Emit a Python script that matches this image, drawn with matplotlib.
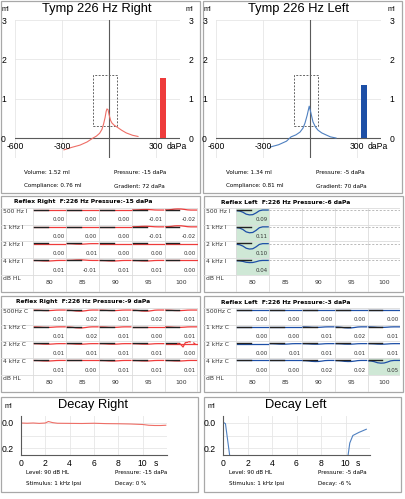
import numpy as np
import matplotlib
matplotlib.use('Agg')
import matplotlib.pyplot as plt
from matplotlib.patches import Rectangle

W, H = 406, 499
BIG = 'Liberation Sans'
SMALL = 'DejaVu Sans'

# ---------------- tympanograms (daPa, ml)
tymp_p_right = [-287, -240, -185, -140, -102, -80, -60, -45, -35, -25, -18, -13,
                -6, 0, 10, 19, 35, 51, 80, 110, 150, 185]
tymp_c_right = [-0.30, -0.24, -0.18, -0.10, 0.0, 0.05, 0.12, 0.22, 0.35, 0.52, 0.68, 0.74,
                0.72, 0.60, 0.45, 0.38, 0.32, 0.28, 0.20, 0.13, 0.07, 0.04]
tymp_p_left = [-255, -200, -150, -121, -90, -64, -45, -32, -18, -5,
               5, 19, 35, 51, 75, 102, 130, 166]
tymp_c_left = [-0.23, -0.17, -0.08, 0.03, 0.08, 0.15, 0.25, 0.38, 0.58, 0.81,
               0.65, 0.41, 0.28, 0.20, 0.13, 0.08, 0.03, 0.0]
volume_right = 1.52
volume_left = 1.34
volume_pos = 345
tymp_info_right = ["Volume: 1.52 ml", "Pressure: -15 daPa", "Compliance: 0.76 ml", "Gradient: 72 daPa"]
tymp_info_left = ["Volume: 1.34 ml", "Pressure: -5 daPa", "Compliance: 0.81 ml", "Gradient: 70 daPa"]
tymp_xticks = [-600, -300, 300]
tymp_yticks = [0, 1, 2, 3]
normal_p = [-100, 50]
normal_c = [0.3, 1.6]

# ---------------- acoustic reflex
reflex_levels = [80, 85, 90, 95, 100]
ipsi_rows = ["500 Hz I", "1 kHz I", "2 kHz I", "4 kHz I"]
contra_rows = ["500Hz C", "1 kHz C", "2 kHz C", "4 kHz C"]
ipsi_right = [[0.00, 0.00, 0.00, -0.01, -0.02],
              [0.00, 0.00, 0.00, -0.01, -0.02],
              [0.00, 0.01, 0.00, 0.00, 0.00],
              [0.01, -0.01, 0.01, 0.01, 0.00]]
ipsi_left = [[0.09, None, None, None, None],
             [0.11, None, None, None, None],
             [0.10, None, None, None, None],
             [0.04, None, None, None, None]]
contra_right = [[0.01, 0.02, 0.01, 0.02, 0.01],
                [0.01, 0.02, 0.01, 0.00, 0.01],
                [0.01, 0.01, 0.01, 0.01, 0.00],
                [0.01, 0.00, 0.01, 0.01, 0.01]]
contra_left = [[0.00, 0.00, 0.00, 0.00, 0.00],
               [0.00, 0.00, 0.01, 0.02, 0.01],
               [0.00, 0.01, 0.01, 0.01, 0.01],
               [0.00, 0.00, 0.02, 0.02, 0.05]]
ipsi_left_green = [(0, 0), (1, 0), (2, 0), (3, 0)]
contra_left_green = [(3, 4)]
# reflex response shape (time fraction, relative depth)
shape_t = [0.03, 0.10, 0.20, 0.30, 0.40, 0.50, 0.60, 0.70, 0.80, 0.97]
shape_d = [0.15, 0.20, 0.45, 0.85, 1.00, 0.95, 0.60, 0.15, 0.00, 0.00]
# artefact seen in right contra 2 kHz / 100 dB
artefact_t = [0.40, 0.48, 0.56, 0.63, 0.70]
artefact_d = [0.0, 0.03, 0.20, -0.06, -0.08]
artefact_dash_t = [0.72, 0.85, 0.97]
artefact_dash_d = [-0.12, -0.08, 0.06]

# ---------------- reflex decay (s, ml)
decay_t_right = [0, 0.5, 1.0, 1.5, 2.0, 2.25, 2.6, 3.0, 4.0, 5.0, 6.0, 7.0, 8.0,
                 9.0, 9.5, 10.0, 10.5, 11.0, 11.5, 11.9]
decay_v_right = [0.0, 0.002, 0.0, 0.003, 0.0, -0.012, -0.003, 0.002, 0.003, 0.004, 0.002,
                 0.005, 0.006, 0.008, 0.01, 0.012, 0.018, 0.02, 0.02, 0.018]
decay_t_left = [0, 0.1, 0.2, 0.54, 0.6, np.nan, 10.15, 10.35, 10.6, 11.1, 11.7]
decay_v_left = [-0.01, 0.0, 0.005, 0.256, 0.3, np.nan, 0.3, 0.16, 0.10, 0.075, 0.05]
decay_xticks = [0, 2, 4, 6, 8, 10]
decay_yticks = [0.0, 0.2]
decay_info_right = ["Level: 90 dB HL", "Pressure: -15 daPa", "Stimulus: 1 kHz Ipsi", "Decay: 0 %"]
decay_info_left = ["Level: 90 dB HL", "Pressure: -5 daPa", "Stimulus: 1 kHz Ipsi", "Decay: -6 %"]

RED_LINE = '#ee6e66'
BLUE_LINE = '#4f80c0'
RED = '#ee3b3b'
BLUE = '#1d4fa6'
GREEN = '#cfe8d6'
GRID = '#e6e6e6'
AXC = '#5a5a5a'
BORDER = '#a8a8a8'

fig = plt.figure(figsize=(W / 100, H / 100), dpi=100)
bg = fig.add_axes([0, 0, 1, 1])
bg.set_xlim(0, W)
bg.set_ylim(H, 0)
bg.axis('off')


def px_axes(x0, y0, x1, y1):
    ax = fig.add_axes([x0 / W, 1 - y1 / H, (x1 - x0) / W, (y1 - y0) / H])
    ax.set_facecolor('none')
    return ax


def border(x0, y0, x1, y1):
    bg.add_patch(Rectangle((x0, y0), x1 - x0, y1 - y0, fill=False,
                           edgecolor=BORDER, lw=0.9))


def tymp_panel(ox, zero_x, title, p, c, vol, bar_color, line_color, info):
    border(ox + 1, 1, ox + 200, 193)
    bg.text(ox + 97, 8.5, title, fontsize=9.3, family=BIG, ha='center', va='center')
    bg.text(ox + 5, 9, 'ml', fontsize=5.2, family=BIG, ha='center', va='center')
    bg.text(ox + 189, 9, 'ml', fontsize=5.2, family=BIG, ha='center', va='center')
    k = 0.1567
    ax = px_axes(zero_x - 600 * k, 20, zero_x + 450 * k, 157.7)
    ax.set_xlim(-600, 450)
    ax.set_ylim(-0.5, 3.0)
    for s in ax.spines.values():
        s.set_visible(False)
    ax.set_xticks([])
    ax.set_yticks(tymp_yticks)
    ax.tick_params(axis='y', left=False, right=False, labelleft=True, labelright=True,
                   labelsize=6.2, pad=3)
    for lab in ax.get_yticklabels():
        lab.set_family(BIG)
    for g in tymp_yticks[1:]:
        ax.axhline(g, color=GRID, lw=0.6, zorder=0)
    for g in [-600, -300, 300]:
        ax.axvline(g, color=GRID, lw=0.6, zorder=0)
    ax.axhline(0, color=AXC, lw=0.8, zorder=1)
    ax.axvline(0, color=AXC, lw=0.8, ymin=0.005, zorder=1)
    ax.plot([normal_p[0], normal_p[1], normal_p[1], normal_p[0], normal_p[0]],
            [normal_c[0], normal_c[0], normal_c[1], normal_c[1], normal_c[0]],
            color='#666666', lw=0.7, ls=(0, (2, 1.5)), zorder=2)
    ax.plot(p, c, color=line_color, lw=0.8, zorder=3)
    ax.bar([volume_pos], [vol], width=38, color=bar_color, zorder=3)
    for t in tymp_xticks:
        ax.text(t, -0.22, str(t), fontsize=6.2, family=BIG, ha='center', va='center')
    ax.text(370, -0.22, 'daPa', fontsize=6.2, family=BIG, ha='left', va='center')
    xs = [ox + 24, ox + 114]
    bg.text(xs[0], 173, info[0], fontsize=4.1, family=SMALL, va='center')
    bg.text(xs[1], 173, info[1], fontsize=4.1, family=SMALL, va='center')
    bg.text(xs[0], 186, info[2], fontsize=4.1, family=SMALL, va='center')
    bg.text(xs[1], 186, info[3], fontsize=4.1, family=SMALL, va='center')


def reflex_panel(ox, oy, title, rows, vals, green, color, artefact=None):
    border(ox + 1, oy + 1, ox + 200, oy + 97)
    bg.text(ox + 83, oy + 7, title, fontsize=4.3, family=SMALL, weight='bold',
            ha='center', va='center')
    ax = px_axes(ox + 0.5, oy + 12.7, ox + 197.5, oy + 96.7)
    ax.set_xlim(0, 6)
    ax.set_ylim(5, 0)
    ax.axis('off')
    for (r, c) in green:
        ax.add_patch(Rectangle((c + 1, r), 1, 1, color=GREEN, lw=0, zorder=0))
    for cc in range(1, 7):
        ax.plot([cc, cc], [0, 5], color='#dcdcdc', lw=0.6, zorder=1)
    for rr in range(0, 5):
        ax.plot([0, 6], [rr, rr], color='#dcdcdc', lw=0.6, zorder=1)
    st = np.array(shape_t)
    sd = np.array(shape_d)
    for r, name in enumerate(rows):
        base = r + 0.14
        ax.text(0.08, r + 0.2, name, fontsize=4.3, family=SMALL, color='#333333',
                ha='left', va='center')
        for c, v in enumerate(vals[r]):
            x0 = c + 1
            if v is None:
                ax.plot([x0, x0 + 1], [base, base], color='#b0b0b0', lw=0.6,
                        ls=(0, (2.5, 2)), zorder=2)
                continue
            ax.plot(x0 + st, base + v * 3.2 * sd, color=color, lw=0.9, zorder=3)
            ax.plot([x0 + 0.03, x0 + 0.45], [base - 0.02, base - 0.02], color='#222222',
                    lw=1.0, zorder=4)
            ax.text(x0 + 0.95, r + 0.73, '%.2f' % v, fontsize=3.9, family=SMALL,
                    color='#333333', ha='right', va='center')
    if artefact is not None:
        r, c = artefact
        base = r + 0.14
        ax.plot(c + 1 + np.array(artefact_t), base + np.array(artefact_d),
                color=color, lw=0.9, zorder=5)
        ax.plot(c + 1 + np.array(artefact_dash_t), base + np.array(artefact_dash_d),
                color=color, lw=0.9, ls=(0, (2, 2)), zorder=5)
    ax.text(0.08, 4.2, 'dB HL', fontsize=4.3, family=SMALL, color='#333333',
            ha='left', va='center')
    for c, lev in enumerate(reflex_levels):
        ax.text(c + 1.5, 4.45, str(lev), fontsize=4.4, family=SMALL, color='#333333',
                ha='center', va='center')


def decay_panel(ox, x0, x1, title, t, v, color, info):
    border(ox + 1, 397, ox + 198, 492)
    bg.text(ox + 93, 405, title, fontsize=9.3, family=BIG, ha='center', va='center')
    bg.text(ox + 8, 407, 'ml', fontsize=5.2, family=BIG, ha='center', va='center')
    ax = px_axes(x0, 416, x1, 455)
    ax.set_xlim(0, 12)
    ax.set_ylim(0.256, -0.056)
    for s in ['top', 'right']:
        ax.spines[s].set_visible(False)
    for s in ['left', 'bottom']:
        ax.spines[s].set_color(AXC)
        ax.spines[s].set_linewidth(0.8)
    ax.set_xticks(decay_xticks)
    ax.set_yticks(decay_yticks)
    ax.set_yticklabels(['%.1f' % y for y in decay_yticks])
    ax.tick_params(length=0, labelsize=6.2, pad=3)
    ax.tick_params(axis='y', pad=5.5)
    for lab in ax.get_xticklabels() + ax.get_yticklabels():
        lab.set_family(BIG)
    for g in decay_xticks[1:]:
        ax.axvline(g, color=GRID, lw=0.6, zorder=0)
    for g in [0.0, 0.1, 0.2]:
        ax.axhline(g, color=GRID, lw=0.6, zorder=0)
    ax.plot(t, v, color=color, lw=0.8, clip_on=True)
    ax.annotate('s', xy=(11.05, 0), xycoords=('data', 'axes fraction'),
                xytext=(0, -3), textcoords='offset points', fontsize=6.2, family=BIG,
                ha='center', va='top')
    xs = [ox + 26, ox + 115]
    bg.text(xs[0], 472, info[0], fontsize=4.1, family=SMALL, va='center')
    bg.text(xs[1], 472, info[1], fontsize=4.1, family=SMALL, va='center')
    bg.text(xs[0], 484, info[2], fontsize=4.1, family=SMALL, va='center')
    bg.text(xs[1], 484, info[3], fontsize=4.1, family=SMALL, va='center')


tymp_panel(0, 109, 'Tymp 226 Hz Right', tymp_p_right, tymp_c_right, volume_right,
           RED, RED_LINE, tymp_info_right)
tymp_panel(202, 310, 'Tymp 226 Hz Left', tymp_p_left, tymp_c_left, volume_left,
           BLUE, BLUE_LINE, tymp_info_left)

reflex_panel(0, 195, 'Reflex Right  F:226 Hz Pressure:-15 daPa', ipsi_rows, ipsi_right,
             [], RED)
reflex_panel(203, 195, 'Reflex Left  F:226 Hz Pressure:-6 daPa', ipsi_rows, ipsi_left,
             ipsi_left_green, BLUE)
reflex_panel(0, 295, 'Reflex Right  F:226 Hz Pressure:-9 daPa', contra_rows, contra_right,
             [], RED, artefact=(2, 4))
reflex_panel(203, 295, 'Reflex Left  F:226 Hz Pressure:-3 daPa', contra_rows, contra_left,
             contra_left_green, BLUE)

decay_panel(0, 21, 167, 'Decay Right', decay_t_right, decay_v_right, RED_LINE,
            decay_info_right)
decay_panel(203, 223, 370, 'Decay Left', decay_t_left, decay_v_left, BLUE_LINE,
            decay_info_left)

fig.savefig('out.png', dpi=100)
